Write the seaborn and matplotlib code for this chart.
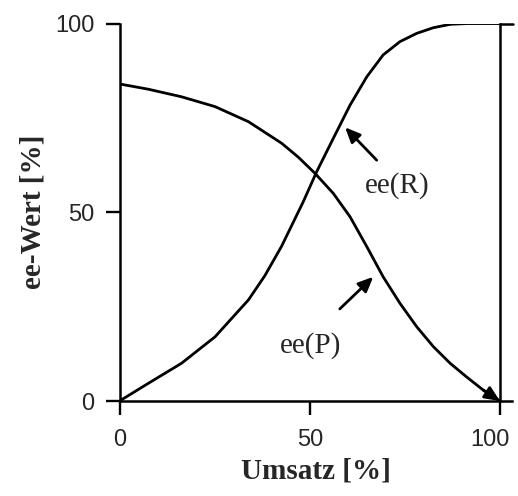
import matplotlib
matplotlib.use("Agg")
import matplotlib.pyplot as plt
import matplotlib.transforms as mtransforms
import seaborn as sns
import pandas as pd

# Data
conv_R = [0, 7.6, 16.3, 25.1, 33.9, 38.2, 42.6, 48.3, 51.8, 56.2, 60.6, 65.0,
          69.3, 73.7, 78.1, 82.5, 86.9, 91.2, 100]
ee_R   = [0, 4.7, 10.0, 17.0, 26.8, 33.2, 41.0, 52.8, 60.7, 69.6, 78.4, 85.9,
          91.7, 95.2, 97.4, 98.9, 99.8, 100, 100]

conv_P = [0, 7.6, 16.3, 25.1, 33.9, 42.6, 47.0, 51.4, 56.2, 60.6, 65.0, 69.3,
          73.7, 78.1, 82.5, 86.9, 91.2, 95.6, 100]
ee_P   = [84, 82.6, 80.6, 78.0, 74.0, 68.3, 64.6, 60.3, 55.0, 48.8, 40.9, 32.9,
          25.9, 19.7, 14.4, 10.0, 6.4, 2.9, 0]

x_ticks = [0, 50, 100]
y_ticks = [0, 50, 100]
x_label = "Umsatz [%]"
y_label = "ee-Wert [%]"
label_R = "ee(R)"
label_P = "ee(P)"

sns.set_style("ticks")
plt.rcParams['font.family'] = ['Liberation Sans', 'DejaVu Sans']

df = pd.concat([
    pd.DataFrame({"Umsatz": conv_R, "ee": ee_R, "Serie": label_R}),
    pd.DataFrame({"Umsatz": conv_P, "ee": ee_P, "Serie": label_P}),
])

fig = plt.figure(figsize=(5.18, 4.96), dpi=100)
ax = fig.add_axes([0.2307, 0.1915, 0.758, 0.761])

sns.lineplot(data=df, x="Umsatz", y="ee", units="Serie", estimator=None,
             color="black", linewidth=2.0, sort=False, ax=ax, legend=False)
for ln in ax.get_lines():
    ln.set_solid_joinstyle("round")
    ln.set_solid_capstyle("round")

ax.set_xlim(0, 103.2)
ax.set_ylim(0, 100)
ax.set_xticks(x_ticks)
ax.set_yticks(y_ticks)
ax.tick_params(axis="both", direction="out", length=10, width=1.7,
               labelsize=17, color="black")
ax.tick_params(axis="y", pad=8)
ax.tick_params(axis="x", pad=10)

ax.spines["top"].set_visible(False)
ax.spines["right"].set_position(("data", 100))
ax.spines["right"].set_bounds(0, 100)
for s in ["left", "bottom", "right"]:
    ax.spines[s].set_linewidth(1.8)
    ax.spines[s].set_color("black")
ax.spines["left"].set_bounds(0, 100)
# small stub at top right
ax.plot([100, 103.5], [100, 100], color="black", lw=1.8, clip_on=False)

# shift the last x tick label a bit left so it stays inside
lbls = ax.get_xticklabels()
offset = mtransforms.ScaledTranslation(-7 / 72, 0, fig.dpi_scale_trans)
lbls[-1].set_transform(lbls[-1].get_transform() + offset)

serif = ['Liberation Serif', 'DejaVu Serif']
ax.set_xlabel(x_label, fontsize=21, fontweight="bold", family=serif, labelpad=5)
ax.set_ylabel(y_label, fontsize=21, fontweight="bold", family=serif, labelpad=6)

arrow = dict(arrowstyle="-|>,head_length=0.9,head_width=0.4",
             color="black", lw=2.0, shrinkA=0, shrinkB=0)
# curve labels with arrows
ax.annotate("", xy=(59.3, 72.5), xytext=(67.6, 63.8), arrowprops=arrow)
ax.text(72.9, 57.2, label_R, fontsize=21, family=serif, ha="center", va="center")

ax.annotate("", xy=(66.7, 32.9), xytext=(57.9, 24.4), arrowprops=arrow)
ax.text(50.3, 14.8, label_P, fontsize=21, family=serif, ha="center", va="center")

# arrowhead at the end of ee(P)
ax.annotate("", xy=(conv_P[-1], ee_P[-1]), xytext=(conv_P[-2], ee_P[-2]),
            arrowprops=arrow, annotation_clip=False)

fig.savefig("out.png", dpi=100)
